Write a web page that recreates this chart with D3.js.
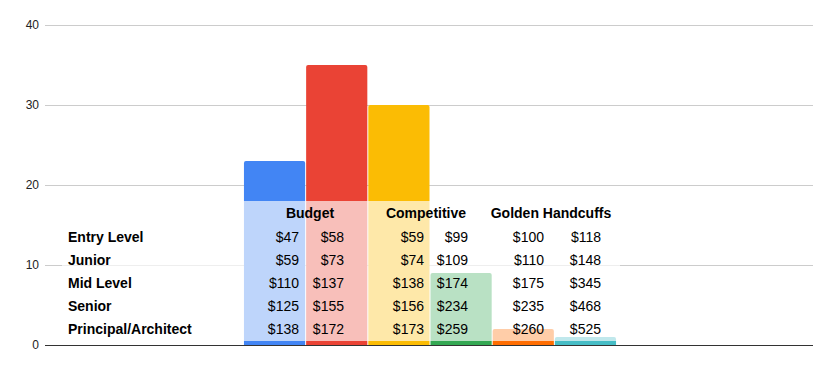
<!DOCTYPE html>
<html>
<head>
<meta charset="utf-8">
<script src="https://cdn.jsdelivr.net/npm/d3@7"></script>
<style>
  body { margin: 0; background: #fff; }
  text { font-family: Arial, "Liberation Sans", sans-serif; }
</style>
</head>
<body>
<script>
// chart data
var categories = [""];
var seriesNames = ["Budget Low", "Budget High", "Competitive Low", "Competitive High", "Golden Low", "Golden High"];
var seriesValues = [23, 35, 30, 9, 2, 1];
var seriesColors = ["#4285f4", "#ea4335", "#fbbc04", "#34a853", "#ff6d01", "#46bdc6"];
var yTicks = [0, 10, 20, 30, 40];

// overlaid table
var tableHeaders = ["Budget", "Competitive", "Golden Handcuffs"];
var rowLabels = ["Entry Level", "Junior", "Mid Level", "Senior", "Principal/Architect"];
var tableValues = [
	["$47", "$58", "$59", "$99", "$100", "$118"],
	["$59", "$73", "$74", "$109", "$110", "$148"],
	["$110", "$137", "$138", "$174", "$175", "$345"],
	["$125", "$155", "$156", "$234", "$235", "$468"],
	["$138", "$172", "$173", "$259", "$260", "$525"]
];

function main(){
	var w = 832;
	var h = 371;
	var left = 45, right = 813, top = 25, bottom = 345;

	var svg = d3.select("body")
				.append("svg")
				.attr("width", w)
				.attr("height", h);

	var y = d3.scaleLinear().domain([0, 40]).range([bottom, top]);

	var x0 = d3.scaleBand()
				.domain(categories)
				.range([left + 1, right + 1])
				.paddingInner(0)
				.paddingOuter(0.532);

	var x1 = d3.scaleBand()
				.domain(seriesNames)
				.range([0, x0.bandwidth()])
				.paddingInner(0.016);

	// gridlines
	svg.append("g")
		.selectAll("line")
		.data(yTicks.filter(function(d){ return d > 0; }))
		.enter()
		.append("line")
		.attr("x1", left)
		.attr("x2", right)
		.attr("y1", function(d){ return y(d) + 0.5; })
		.attr("y2", function(d){ return y(d) + 0.5; })
		.attr("stroke", "#cccccc");

	// tick labels
	svg.append("g")
		.selectAll("text")
		.data(yTicks)
		.enter()
		.append("text")
		.attr("x", 39)
		.attr("y", function(d){ return y(d) + 4; })
		.attr("text-anchor", "end")
		.attr("font-size", 12)
		.attr("fill", "#222")
		.text(function(d){ return d; });

	// bars with rounded tops
	function barPath(x, yt, bw, yb){
		var r = Math.min(2, yb - yt);
		return "M" + x + "," + yb +
			"V" + (yt + r) +
			"Q" + x + "," + yt + " " + (x + r) + "," + yt +
			"H" + (x + bw - r) +
			"Q" + (x + bw) + "," + yt + " " + (x + bw) + "," + (yt + r) +
			"V" + yb + "Z";
	}

	var g = svg.append("g")
				.attr("transform", "translate(" + x0(categories[0]) + ",0)");

	g.selectAll("path")
		.data(seriesNames)
		.enter()
		.append("path")
		.attr("d", function(d, i){
			return barPath(x1(d), y(seriesValues[i]), x1.bandwidth(), y(0));
		})
		.attr("fill", function(d, i){ return seriesColors[i]; });

	// baseline
	svg.append("line")
		.attr("x1", left)
		.attr("x2", right)
		.attr("y1", bottom + 0.5)
		.attr("y2", bottom + 0.5)
		.attr("stroke", "#333333");

	// translucent table panel
	svg.append("rect")
		.attr("x", 62)
		.attr("y", 201)
		.attr("width", 558)
		.attr("height", 140)
		.attr("fill", "#ffffff")
		.attr("fill-opacity", 0.66);

	var headerX = [310, 426, 551];
	var colRight = [299, 344, 424, 468, 544, 601];
	var rowY = d3.scalePoint().domain(rowLabels).range([242, 334]);

	svg.append("g")
		.selectAll("text")
		.data(tableHeaders)
		.enter()
		.append("text")
		.attr("x", function(d, i){ return headerX[i]; })
		.attr("y", 218)
		.attr("text-anchor", "middle")
		.attr("font-size", 14)
		.attr("font-weight", "bold")
		.attr("fill", "#000")
		.text(function(d){ return d; });

	svg.append("g")
		.selectAll("text")
		.data(rowLabels)
		.enter()
		.append("text")
		.attr("x", 68)
		.attr("y", function(d){ return rowY(d); })
		.attr("font-size", 14)
		.attr("font-weight", "bold")
		.attr("fill", "#000")
		.text(function(d){ return d; });

	var rows = svg.append("g")
		.selectAll("g")
		.data(tableValues)
		.enter()
		.append("g");

	rows.selectAll("text")
		.data(function(d){ return d; })
		.enter()
		.append("text")
		.attr("x", function(d, i){ return colRight[i]; })
		.attr("y", function(d, i, nodes){
			var r = tableValues.indexOf(d3.select(nodes[i].parentNode).datum());
			return rowY(rowLabels[r]);
		})
		.attr("text-anchor", "end")
		.attr("font-size", 14)
		.attr("fill", "#000")
		.text(function(d){ return d; });
}

main();
</script>
</body>
</html>
